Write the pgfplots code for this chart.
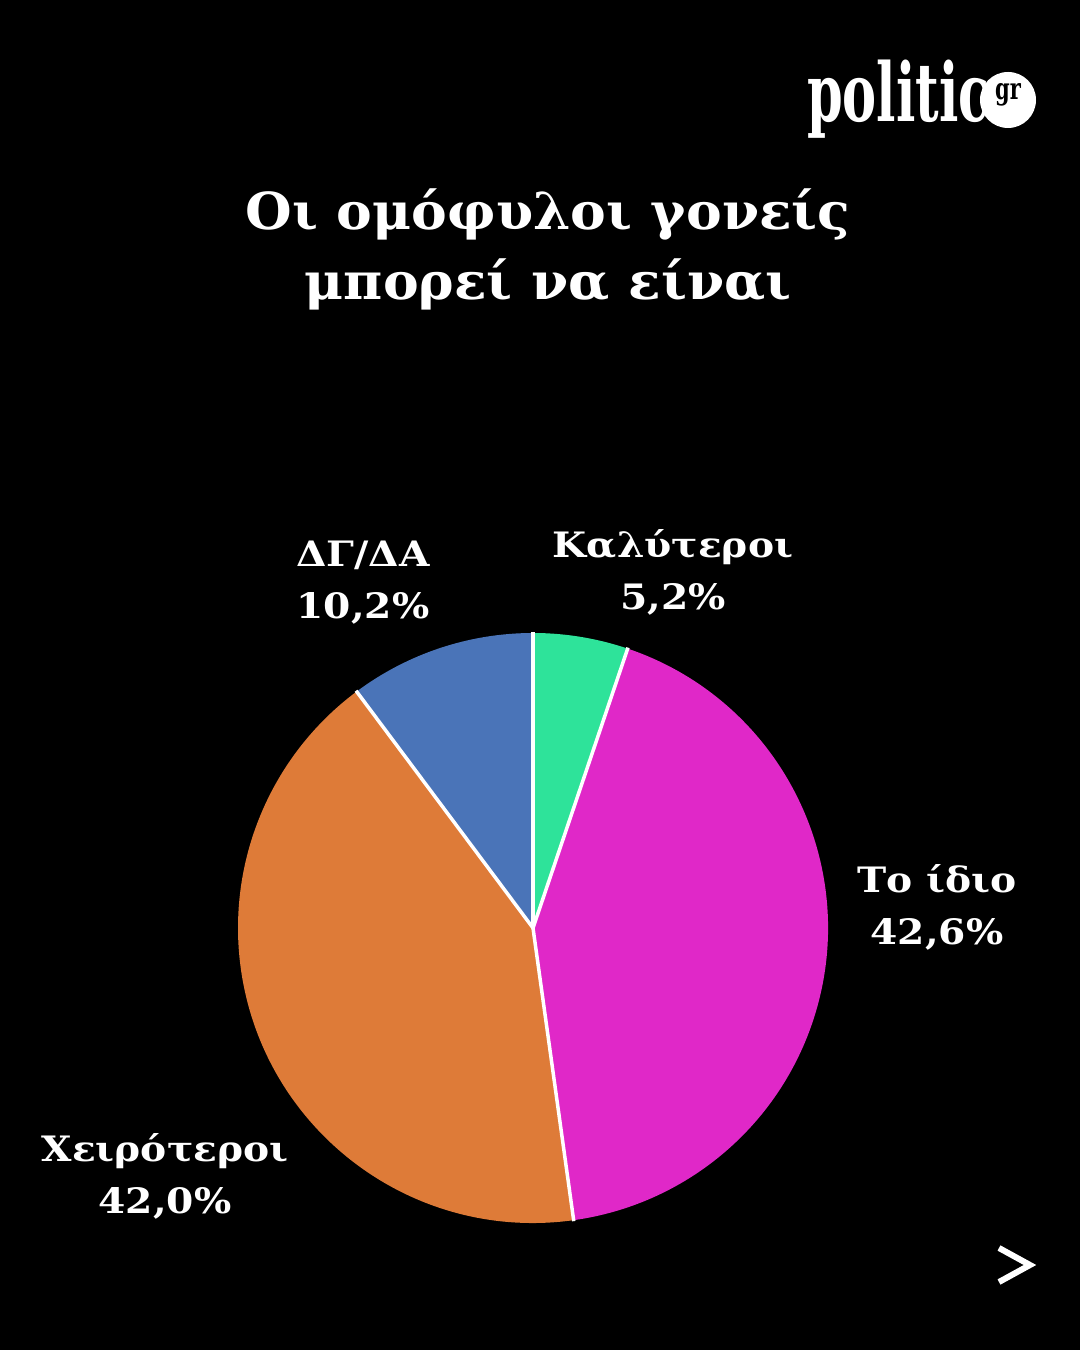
\documentclass[border=0pt]{standalone}
\usepackage{fontspec}
\usepackage{pgfplots}
\usepackage{pgfplotstable}
\pgfplotsset{compat=1.18}
\setmainfont{DejaVu Serif}

\definecolor{slgreen}{HTML}{2EE39A}
\definecolor{slmag}{HTML}{E028C8}
\definecolor{slorange}{HTML}{DE7B38}
\definecolor{slblue}{HTML}{4A74B8}

% shares in %, clockwise from 12 o'clock
\pgfplotstableread[col sep=comma]{
share,label
5.2,Καλύτεροι
42.6,Το ίδιο
42.0,Χειρότεροι
10.2,ΔΓ/ΔΑ
}\piedata

\pgfplotstablegetelem{0}{share}\of\piedata \let\sA\pgfplotsretval
\pgfplotstablegetelem{1}{share}\of\piedata \let\sB\pgfplotsretval
\pgfplotstablegetelem{2}{share}\of\piedata \let\sC\pgfplotsretval
\pgfplotstablegetelem{3}{share}\of\piedata \let\sD\pgfplotsretval
\pgfmathsetmacro\aA{90}
\pgfmathsetmacro\aB{\aA-3.6*\sA}
\pgfmathsetmacro\aC{\aB-3.6*\sB}
\pgfmathsetmacro\aD{\aC-3.6*\sC}
\pgfmathsetmacro\aE{\aD-3.6*\sD}

\newcommand\lab[1]{\scalebox{1.12}[1]{#1}}
\newcommand\ttl[1]{\scalebox{1.05}[1]{#1}}
\tikzset{labstyle/.style={white, align=center, font=\bfseries\fontsize{35}{52}\selectfont}}

\begin{document}
\begin{tikzpicture}
\begin{axis}[
    x=1pt, y=1pt,
    xmin=0, xmax=1080, ymin=0, ymax=1350,
    hide axis, clip=false,
]
% background
\fill[black] (axis cs:0,0) rectangle (axis cs:1080,1350);

% pie slices, centre (533,422) radius 295
\fill[slgreen]  (axis cs:533,422) -- ++(\aA:295pt) arc[start angle=\aA, end angle=\aB, radius=295pt] -- cycle;
\fill[slmag]    (axis cs:533,422) -- ++(\aB:295pt) arc[start angle=\aB, end angle=\aC, radius=295pt] -- cycle;
\fill[slorange] (axis cs:533,422) -- ++(\aC:295pt) arc[start angle=\aC, end angle=\aD, radius=295pt] -- cycle;
\fill[slblue]   (axis cs:533,422) -- ++(\aD:295pt) arc[start angle=\aD, end angle=\aE, radius=295pt] -- cycle;
\draw[white, line width=3.5pt] (axis cs:533,422) -- ++(\aA:296pt);
\draw[white, line width=3.5pt] (axis cs:533,422) -- ++(\aB:296pt);
\draw[white, line width=3.5pt] (axis cs:533,422) -- ++(\aC:296pt);
\draw[white, line width=3.5pt] (axis cs:533,422) -- ++(\aD:296pt);

% slice labels
\node[labstyle] at (axis cs:673,778) {\lab{Καλύτεροι}\\\lab{5,2\%}};
\node[labstyle] at (axis cs:937,443) {\lab{Το ίδιο}\\\lab{42,6\%}};
\node[labstyle] at (axis cs:165,174) {\lab{Χειρότεροι}\\\lab{42,0\%}};
\node[labstyle] at (axis cs:363,767) {\lab{ΔΓ/ΔΑ}\\\lab{10,2\%}};

% title
\node[white, anchor=base, font=\bfseries\fontsize{51}{51}\selectfont] at (axis cs:548,1120) {\ttl{Οι ομόφυλοι γονείς}};
\node[white, anchor=base, font=\bfseries\fontsize{51}{51}\selectfont] at (axis cs:548,1050) {\ttl{μπορεί να είναι}};

% logo
\node[white, font=\bfseries\fontsize{81}{81}\selectfont, anchor=base east, inner sep=0pt] at (axis cs:990,1228) {\scalebox{0.63}[1]{politic}};
\fill[white] (axis cs:1008,1250) circle[radius=28pt];
\node[black, font=\bfseries\fontsize{30}{30}\selectfont] at (axis cs:1008,1255) {\scalebox{0.7}[1]{gr}};

% next arrow
\draw[white, line width=6pt, miter limit=10] (axis cs:999,102) -- (axis cs:1030,85) -- (axis cs:999,68);
\end{axis}
\end{tikzpicture}
\end{document}
